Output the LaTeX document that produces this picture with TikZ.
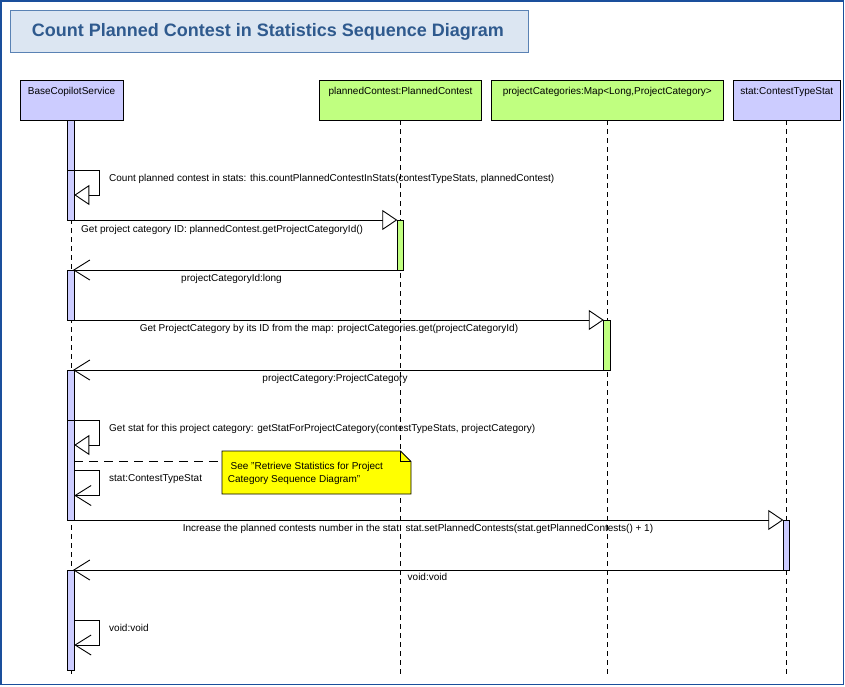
\documentclass[tikz,border=0pt]{standalone}
\usepackage{fontspec}
\setmainfont{Liberation Sans}
\usetikzlibrary{arrows.meta}
\definecolor{frameblue}{HTML}{1A4F9C}
\definecolor{titlefill}{HTML}{DCE6F2}
\definecolor{titledraw}{HTML}{5A82B4}
\definecolor{titletext}{HTML}{2F5A8E}
\definecolor{lav}{HTML}{CCCCFF}
\definecolor{lgreen}{HTML}{C0FF80}
\definecolor{noteyellow}{HTML}{FFFF00}
\tikzset{
  txt/.style={font=\fontsize{10}{12}\selectfont, inner sep=0pt},
  hdr/.style={draw=black, line width=0.8pt, inner sep=0pt, outer sep=0pt, anchor=north west,
    minimum height=40pt, text height=14.5pt, text depth=25.5pt, font=\fontsize{10}{12}\selectfont},
  barbox/.style={draw=black, line width=0.8pt, inner sep=0pt, outer sep=0pt, anchor=north west, minimum width=6.5pt},
  lifeline/.style={line width=0.8pt, dash pattern=on 5pt off 4pt},
  msg/.style={line width=0.9pt, -{Triangle[open, length=15pt, width=20pt, fill=white]}},
  ret/.style={line width=0.9pt, -{Straight Barb[length=16pt, width=20pt]}},
  notelink/.style={line width=0.8pt, dash pattern=on 9pt off 6pt},
}
\begin{document}
\begin{tikzpicture}[x=1pt,y=-1pt]
\useasboundingbox (0,0) rectangle (845,686);
\fill[white] (0,0) rectangle (845,686);
\draw[frameblue, line width=1.6pt] (1,1) rectangle (843.5,684.5);
% title
\node[draw=titledraw, fill=titlefill, line width=0.9pt, anchor=north west, minimum width=518pt, minimum height=42pt, inner sep=0pt,
  text=titletext, font=\fontsize{18}{20}\selectfont\bfseries] (title) at (10,10) {Count Planned Contest in Statistics Sequence Diagram\hspace*{3pt}};
% headers
\node[hdr, fill=lav, minimum width=103pt] (h1) at (20,80) {BaseCopilotService};
\node[hdr, fill=lgreen, minimum width=162pt] (h2) at (319.5,80) {plannedContest:PlannedContest};
\node[hdr, fill=lgreen, minimum width=231.5pt] (h3) at (491.5,80) {projectCategories:Map<Long,ProjectCategory>};
\node[hdr, fill=lav, minimum width=107.5pt] (h4) at (733,80) {stat:ContestTypeStat};
% lifeline ends
\coordinate (e1) at (71,675);
\coordinate (e2) at (400.5,675);
\coordinate (e3) at (607,675);
\coordinate (e4) at (786.5,675);
\draw[lifeline] (h1.south -| e1) -- (e1);
\draw[lifeline] (h2.south -| e2) -- (e2);
\draw[lifeline] (h3.south -| e3) -- (e3);
\draw[lifeline] (h4.south -| e4) -- (e4);
% activation bars
\node[barbox, fill=lav, minimum height=100pt] (b1) at (67.8,120) {};
\node[barbox, fill=lav, minimum height=50pt] (b2) at (67.8,270) {};
\node[barbox, fill=lav, minimum height=150pt] (b3) at (67.8,370) {};
\node[barbox, fill=lav, minimum height=100pt] (b4) at (67.8,570) {};
\node[barbox, fill=lgreen, minimum height=50pt] (p1) at (397.3,220) {};
\node[barbox, fill=lgreen, minimum height=50pt] (c1) at (603.8,320) {};
\node[barbox, fill=lav, minimum height=50pt] (s1) at (783.3,520) {};
% message 1 (self)
\coordinate (m1a) at (67.8,170);
\coordinate (m1b) at (99.3,170);
\coordinate (m1c) at (99.3,195);
\coordinate (m1d) at (74.3,195);
\draw[msg] (m1a) -- (m1b) -- (m1c) -- (m1d);
\node[txt, anchor=base west] (l1) at (109,181) {Count planned contest in stats: this.countPlannedContestInStats(contestTypeStats, plannedContest)};
% message 2
\draw[msg] (b1.south west) -- (b1.south west -| p1.west);
\node[txt, anchor=base west] (l2) at (81,232) {Get project category ID: plannedContest.getProjectCategoryId()};
% return 3
\coordinate (r3) at (73,270);
\draw[ret] (p1.south west) -- (p1.south west -| r3);
\node[txt, anchor=base] (l3) at (231.5,281) {projectCategoryId:long};
% message 4
\draw[msg] (b2.south west) -- (b2.south west -| c1.west);
\node[txt, anchor=base] (l4) at (329,331) {Get ProjectCategory by its ID from the map: projectCategories.get(projectCategoryId)};
% return 5
\coordinate (r5) at (73,370);
\draw[ret] (c1.south west) -- (c1.south west -| r5);
\node[txt, anchor=base] (l5) at (335,381) {projectCategory:ProjectCategory};
% message 6 (self)
\coordinate (m6a) at (67.8,420);
\coordinate (m6b) at (99.3,420);
\coordinate (m6c) at (99.3,445);
\coordinate (m6d) at (74.3,445);
\draw[msg] (m6a) -- (m6b) -- (m6c) -- (m6d);
\node[txt, anchor=base west] (l6) at (109,431) {Get stat for this project category: getStatForProjectCategory(contestTypeStats, projectCategory)};
% note
\coordinate (n1) at (222,451);
\coordinate (n2) at (400.5,451);
\coordinate (n3) at (411,461.5);
\coordinate (n4) at (411,494);
\coordinate (n5) at (222,494);
\draw[fill=noteyellow, line width=0.8pt] (n1) -- (n2) -- (n3) -- (n4) -- (n5) -- cycle;
\draw[line width=0.8pt] (n2) -- (n2 |- n3) -- (n3);
\node[txt, anchor=base west, align=left, font=\fontsize{10}{13}\selectfont] (note) at (227.7,482) {\ See "Retrieve Statistics for Project\\Category Sequence Diagram"};
\coordinate (nl) at (74.3,461);
\draw[notelink] (nl) -- (nl -| n1);
% return 7 (self)
\coordinate (m7a) at (74.3,470);
\coordinate (m7b) at (99.3,470);
\coordinate (m7c) at (99.3,495.5);
\coordinate (m7d) at (74.3,495.5);
\draw[ret] (m7a) -- (m7b) -- (m7c) -- (m7d);
\node[txt, anchor=base west] (l7) at (109,481) {stat:ContestTypeStat};
% message 8
\draw[msg] (b3.south west) -- (b3.south west -| s1.west);
\node[txt, anchor=base] (l8) at (418,531.5) {Increase the planned contests number in the stat: stat.setPlannedContests(stat.getPlannedContests() + 1)};
% return 9
\coordinate (r9) at (73,570);
\draw[ret] (s1.south west) -- (s1.south west -| r9);
\node[txt, anchor=base west] (l9) at (407.5,580.5) {void:void};
% return 10 (self)
\coordinate (m10a) at (74.3,620);
\coordinate (m10b) at (99.3,620);
\coordinate (m10c) at (99.3,645);
\coordinate (m10d) at (74.3,645);
\draw[ret] (m10a) -- (m10b) -- (m10c) -- (m10d);
\node[txt, anchor=base west] (l10) at (109,631) {void:void};
\end{tikzpicture}
\end{document}
